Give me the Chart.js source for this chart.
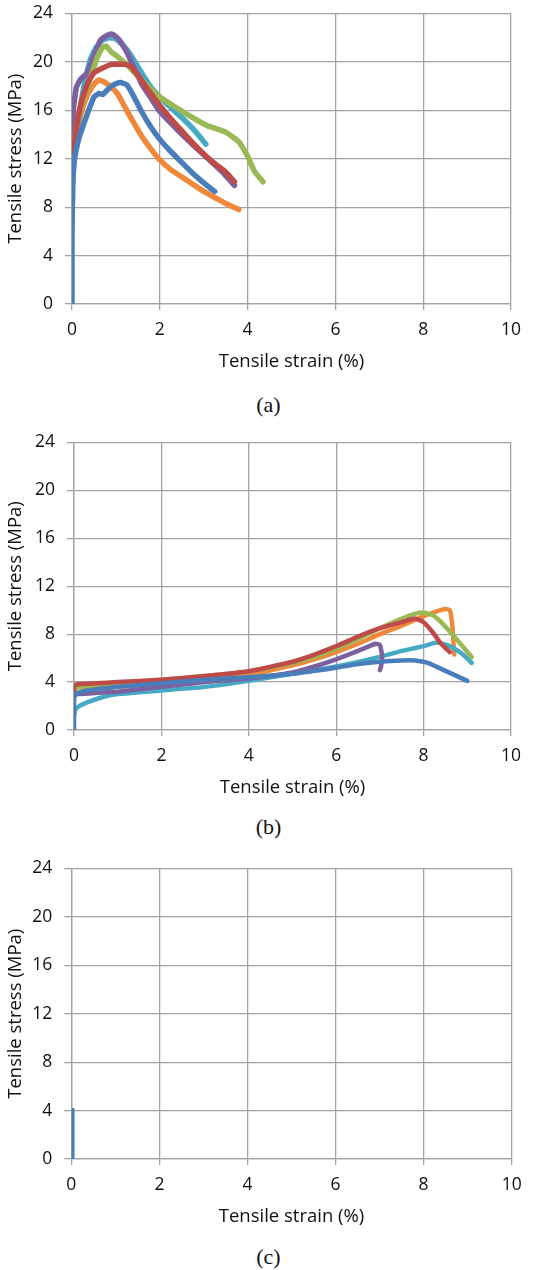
<!DOCTYPE html>
<html>
<head>
<meta charset="utf-8">
<script src="https://cdn.jsdelivr.net/npm/chart.js@4.4.1/dist/chart.umd.min.js"></script>
<style>
  html, body { margin: 0; padding: 0; background: #fff; }
  body { width: 537px; height: 1270px; position: relative; overflow: hidden; }
  .box { position: absolute; left: 0; width: 537px; }
  .cap { position: absolute; left: 0; width: 537px; text-align: center;
         font-family: "Liberation Serif", "Times New Roman", serif; font-size: 22px; color: #111; line-height: 26px; }
</style>
</head>
<body>
<div class="box" style="top:-9px;height:389px"><canvas id="ca" width="537" height="389"></canvas></div>
<div class="cap" style="top:392px">(a)</div>
<div class="box" style="top:420px;height:386px"><canvas id="cb" width="537" height="386"></canvas></div>
<div class="cap" style="top:814px">(b)</div>
<div class="box" style="top:846px;height:389px"><canvas id="cc" width="537" height="389"></canvas></div>
<div class="cap" style="top:1244px">(c)</div>
<script>
// ---------- shared axis data ----------
const xTitle = "Tensile strain (%)";
const yTitle = "Tensile stress (MPa)";
const xMin = 0, xMax = 10, xStep = 2;
const yMin = 0, yMax = 24, yStep = 4;

// ---------- colours (Excel palette) ----------
const cBlue = "#4a7ebb", cRed = "#be4b48", cGreen = "#98b954", cPurple = "#7d60a0", cAqua = "#46aac5", cOrange = "#f0883a";

// ---------- chart (a) ----------
const aBlueX = [0.00,0.00,0.02,0.06,0.15,0.26,0.40,0.50,0.62,0.70,0.78,0.90,1.00,1.10,1.25,1.40,1.60,1.80,2.00,2.25,2.50,2.75,3.00,3.25];
const aBlueY = [0.0,6.0,10.0,12.0,13.6,14.8,16.2,17.1,17.4,17.3,17.6,18.0,18.2,18.3,18.1,17.2,15.8,14.6,13.6,12.6,11.7,10.8,10.0,9.3];
const aOrangeX = [0.00,0.02,0.08,0.18,0.30,0.45,0.60,0.75,0.90,1.05,1.20,1.40,1.60,1.80,2.00,2.25,2.50,2.75,3.00,3.25,3.50,3.80];
const aOrangeY = [9.5,11.5,13.5,15.3,16.8,17.9,18.5,18.3,17.9,17.3,16.3,15.0,13.8,12.8,11.9,11.1,10.5,9.9,9.3,8.8,8.3,7.8];
const aRedX = [0.00,0.02,0.08,0.20,0.35,0.50,0.70,0.90,1.05,1.20,1.35,1.50,1.75,2.00,2.25,2.50,2.75,3.00,3.25,3.50,3.70];
const aRedY = [9.0,11.5,14.0,16.5,18.2,19.1,19.5,19.8,19.8,19.8,19.6,18.9,17.6,16.4,15.3,14.3,13.3,12.4,11.6,10.9,10.1];
const aGreenX = [0.00,0.02,0.10,0.20,0.30,0.45,0.58,0.70,0.78,0.90,1.05,1.30,1.50,1.75,2.00,2.30,2.70,3.10,3.50,3.80,4.00,4.15,4.35];
const aGreenY = [10.0,12.0,14.5,16.2,17.4,19.0,20.4,21.2,21.3,20.8,20.4,19.6,18.8,17.9,17.1,16.4,15.5,14.7,14.2,13.4,12.2,11.0,10.1];
const aPurpleX = [0.00,0.01,0.03,0.10,0.20,0.35,0.50,0.65,0.80,0.90,1.00,1.10,1.25,1.40,1.60,1.80,2.00,2.40,2.80,3.10,3.40,3.70];
const aPurpleY = [9.0,13.0,16.0,17.9,18.6,19.1,20.5,21.8,22.2,22.3,22.1,21.7,20.8,19.6,18.1,17.0,15.9,14.4,13.0,12.0,11.0,9.8];
const aAquaX = [0.00,0.02,0.10,0.20,0.30,0.42,0.55,0.70,0.85,1.00,1.10,1.25,1.40,1.60,1.80,2.00,2.20,2.50,2.80,3.05];
const aAquaY = [11.0,12.0,14.0,16.5,18.5,20.2,21.2,21.8,22.0,21.9,21.6,21.0,20.2,19.0,17.9,17.1,16.4,15.4,14.3,13.2];

// ---------- chart (b) ----------
const bBlueX = [0.00,0.00,0.03,0.10,0.30,1.00,2.00,3.00,4.00,5.00,6.00,6.50,7.00,7.50,7.80,8.10,8.40,8.70,9.00];
const bBlueY = [0.0,2.5,3.0,3.1,3.3,3.6,3.9,4.2,4.4,4.7,5.2,5.5,5.7,5.8,5.8,5.6,5.1,4.6,4.1];
const bRedX = [0.00,0.00,0.05,0.50,1.00,2.00,3.00,4.00,5.00,5.50,6.00,6.50,7.00,7.50,7.80,8.00,8.20,8.40,8.60];
const bRedY = [3.0,3.6,3.8,3.9,4.0,4.2,4.5,4.9,5.7,6.3,7.0,7.8,8.5,9.0,9.3,9.0,8.2,7.2,6.5];
const bGreenX = [0.00,0.05,0.50,1.00,2.00,3.00,4.00,5.00,5.50,6.00,6.50,7.00,7.50,7.80,8.00,8.20,8.40,8.70,9.10];
const bGreenY = [3.2,3.5,3.8,3.9,4.2,4.5,4.9,5.6,6.1,6.8,7.6,8.5,9.3,9.7,9.8,9.6,9.0,7.8,6.1];
const bPurpleX = [0.00,0.02,0.10,0.50,1.00,2.00,3.00,4.00,5.00,5.50,6.00,6.50,6.90,7.00,7.05,7.03,7.00];
const bPurpleY = [2.8,2.9,3.0,3.1,3.2,3.6,4.0,4.3,4.8,5.3,5.9,6.6,7.2,7.1,6.2,5.4,5.0];
const bAquaX = [0.00,0.02,0.08,0.30,0.70,1.00,2.00,3.00,4.00,5.00,6.00,7.00,7.50,8.00,8.30,8.60,8.90,9.10];
const bAquaY = [1.2,1.6,1.9,2.3,2.8,3.0,3.3,3.6,4.1,4.7,5.3,6.1,6.6,7.0,7.3,7.0,6.3,5.6];
const bOrangeX = [0.00,0.03,0.30,1.00,2.00,3.00,4.00,5.00,5.50,6.00,6.50,7.00,7.50,8.00,8.30,8.50,8.60,8.65,8.68,8.70];
const bOrangeY = [2.8,3.0,3.4,3.6,3.9,4.2,4.6,5.4,5.9,6.5,7.2,8.0,8.7,9.5,9.9,10.1,10.0,9.0,7.5,6.3];

// ---------- chart (c) ----------
const cBlueX = [0.04,0.04];
const cBlueY = [0.0,4.1];

function pts(xs, ys) { return xs.map((x, i) => ({ x: x, y: ys[i] })); }
function ds(xs, ys, color, w) {
  return { data: pts(xs, ys), borderColor: color, backgroundColor: color, borderWidth: w,
           showLine: true, pointRadius: 0, tension: 0.15, borderCapStyle: 'round', borderJoinStyle: 'round' };
}

const FONT = '"Open Sans", "Liberation Sans", sans-serif';
const GRID = '#a3a3a3';

function makeChart(id, datasets, area, h) {
  return new Chart(document.getElementById(id), {
    type: 'scatter',
    data: { datasets: datasets },
    options: {
      responsive: false, animation: false,
      layout: { padding: { left: 0, right: 537 - area.right, top: area.top, bottom: 0 } },
      plugins: { legend: { display: false }, tooltip: { enabled: false } },
      scales: {
        x: {
          type: 'linear', min: xMin, max: xMax,
          ticks: { stepSize: xStep, color: '#111', font: { family: FONT, size: 17.5 }, padding: 10, maxRotation: 0 },
          grid: { color: GRID, lineWidth: 1.3, tickLength: 6, tickColor: GRID },
          border: { color: GRID, width: 1.3 },
          title: { display: true, text: xTitle, color: '#111', font: { family: FONT, size: 18.5 }, padding: { top: 0, bottom: 7 } },
          afterFit: s => { s.height = h - area.bottom; }
        },
        y: {
          type: 'linear', min: yMin, max: yMax,
          ticks: { stepSize: yStep, color: '#111', font: { family: FONT, size: 17.5 }, padding: 12 },
          grid: { color: GRID, lineWidth: 1.3, tickLength: 7, tickColor: GRID },
          border: { color: GRID, width: 1.3 },
          title: { display: true, text: yTitle, color: '#111', font: { family: FONT, size: 18.5 }, padding: { top: 5, bottom: 0 } },
          afterFit: s => { s.width = area.left; }
        }
      }
    }
  });
}

makeChart('ca', [
  ds(aBlueX, aBlueY, cBlue, 5.5), ds(aRedX, aRedY, cRed, 5.5), ds(aGreenX, aGreenY, cGreen, 5.5),
  ds(aPurpleX, aPurpleY, cPurple, 5.5), ds(aAquaX, aAquaY, cAqua, 5.5), ds(aOrangeX, aOrangeY, cOrange, 5.5)
], { left: 72, right: 511, top: 21.7, bottom: 313 }, 389);

makeChart('cb', [
  ds(bBlueX, bBlueY, cBlue, 4.5), ds(bRedX, bRedY, cRed, 4.5), ds(bGreenX, bGreenY, cGreen, 4.5),
  ds(bPurpleX, bPurpleY, cPurple, 4.5), ds(bAquaX, bAquaY, cAqua, 4.5), ds(bOrangeX, bOrangeY, cOrange, 4.5)
], { left: 74, right: 511, top: 21.7, bottom: 310 }, 386);

makeChart('cc', [
  ds(cBlueX, cBlueY, cBlue, 3)
], { left: 71.3, right: 511.7, top: 21.7, bottom: 313 }, 389);
</script>
</body>
</html>
